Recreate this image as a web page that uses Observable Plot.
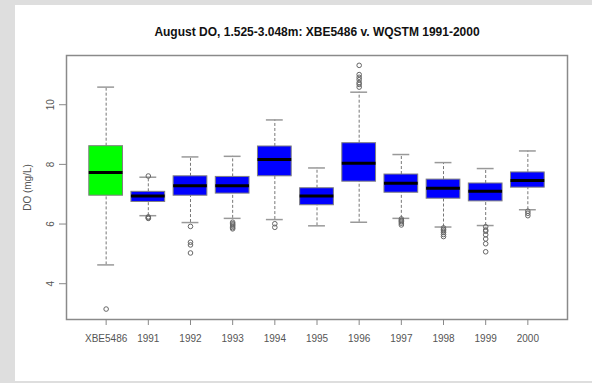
<!DOCTYPE html>
<html><head><meta charset="utf-8">
<script src="https://cdn.jsdelivr.net/npm/d3@7"></script>
<script src="https://cdn.jsdelivr.net/npm/@observablehq/plot@0.6"></script>
<style>
html,body{margin:0;padding:0;background:#dedede;width:592px;height:383px;overflow:hidden}
#panel{position:absolute;left:15px;top:5px;width:577px;height:376px;background:#fff}
#chart{position:absolute;left:0;top:0}
</style></head><body><div id="panel"></div><div id="chart"></div>
<script>
const titleText = "August DO, 1.525-3.048m: XBE5486 v. WQSTM 1991-2000";
const yLabel = "DO (mg/L)";
const categories = ["XBE5486","1991","1992","1993","1994","1995","1996","1997","1998","1999","2000"];
const lowerWhisker = [4.63, 6.28, 6.05, 6.19, 6.15, 5.94, 6.06, 6.19, 5.90, 5.95, 6.48];
const q1           = [6.95, 6.74, 6.95, 7.02, 7.60, 6.63, 7.42, 7.05, 6.85, 6.76, 7.22];
const median       = [7.73, 6.94, 7.28, 7.28, 8.16, 6.94, 8.04, 7.37, 7.20, 7.10, 7.46];
const q3           = [8.61, 7.08, 7.60, 7.58, 8.60, 7.20, 8.71, 7.66, 7.49, 7.36, 7.73];
const upperWhisker = [10.59, 7.57, 8.25, 8.27, 9.49, 7.88, 10.42, 8.33, 8.06, 7.86, 8.45];
const outliers = [
  [3.15],
  [7.61, 6.24, 6.21, 6.19],
  [5.92, 5.39, 5.30, 5.03],
  [6.06, 6.01, 5.97, 5.93, 5.88, 5.84],
  [6.01, 5.89],
  [],
  [11.32, 11.01, 10.92, 10.84, 10.74, 10.68, 10.59],
  [6.17, 6.12, 6.08, 6.03, 5.97],
  [5.87, 5.82, 5.77, 5.72, 5.65, 5.58],
  [5.91, 5.80, 5.76, 5.64, 5.50, 5.34, 5.07],
  [6.43, 6.36, 6.28]
];
const yTicks = [4, 6, 8, 10];

const boxes = categories.map((c, i) => ({pos: i + 1, cat: c, lo: lowerWhisker[i], q1: q1[i], med: median[i], q3: q3[i], hi: upperWhisker[i], station: i === 0}));
const pts = outliers.flatMap((arr, i) => arr.map(v => ({pos: i + 1, v})));
const halfBox = 0.4, halfCap = 0.2;

const chart = Plot.plot({
  width: 592, height: 383,
  marginLeft: 66, marginRight: 25, marginTop: 55, marginBottom: 64,
  style: {background: "transparent", fontFamily: "'Liberation Sans', Arial, sans-serif", fontSize: "10px", color: "#555"},
  x: {domain: [0.06, 11.94], label: null},
  y: {domain: [2.80, 11.65], label: null},
  marks: [
    Plot.ruleX(boxes, {x: "pos", y1: "q3", y2: "hi", stroke: "#777", strokeDasharray: "3,2"}),
    Plot.ruleX(boxes, {x: "pos", y1: "lo", y2: "q1", stroke: "#777", strokeDasharray: "3,2"}),
    Plot.ruleY(boxes, {y: "hi", x1: d => d.pos - halfCap, x2: d => d.pos + halfCap, stroke: "#999", strokeWidth: 1.5}),
    Plot.ruleY(boxes, {y: "lo", x1: d => d.pos - halfCap, x2: d => d.pos + halfCap, stroke: "#999", strokeWidth: 1.5}),
    Plot.rect(boxes, {x1: d => d.pos - halfBox, x2: d => d.pos + halfBox, y1: "q1", y2: "q3", fill: d => d.station ? "#00ff00" : "#0000ff", stroke: "#808080", strokeWidth: 1}),
    Plot.ruleY(boxes, {y: "med", x1: d => d.pos - halfBox, x2: d => d.pos + halfBox, stroke: "#000", strokeWidth: 3}),
    Plot.dot(pts, {x: "pos", y: "v", r: 2.3, stroke: "#666", fill: "none", strokeWidth: 1}),
    Plot.frame({stroke: "#8a8a8a", strokeWidth: 1.5}),
    Plot.axisY({ticks: yTicks, tickSize: 7, tickRotate: -90, tickPadding: 6, fill: "#555", stroke: "#888"}),
    Plot.axisX({ticks: d3.range(1, categories.length + 1), tickSize: 6, tickPadding: 9, tickFormat: p => categories[p - 1], fill: "#555", stroke: "#888"}),
    Plot.text([titleText], {frameAnchor: "top", lineAnchor: "middle", textAnchor: "middle", dy: -23, fontWeight: "bold", fontSize: 12, fill: "#111"}),
    Plot.text([yLabel], {frameAnchor: "left", lineAnchor: "middle", textAnchor: "middle", dx: -39, rotate: -90, fill: "#555", fontSize: 10})
  ]
});
document.getElementById("chart").appendChild(chart);
</script>
</body></html>
